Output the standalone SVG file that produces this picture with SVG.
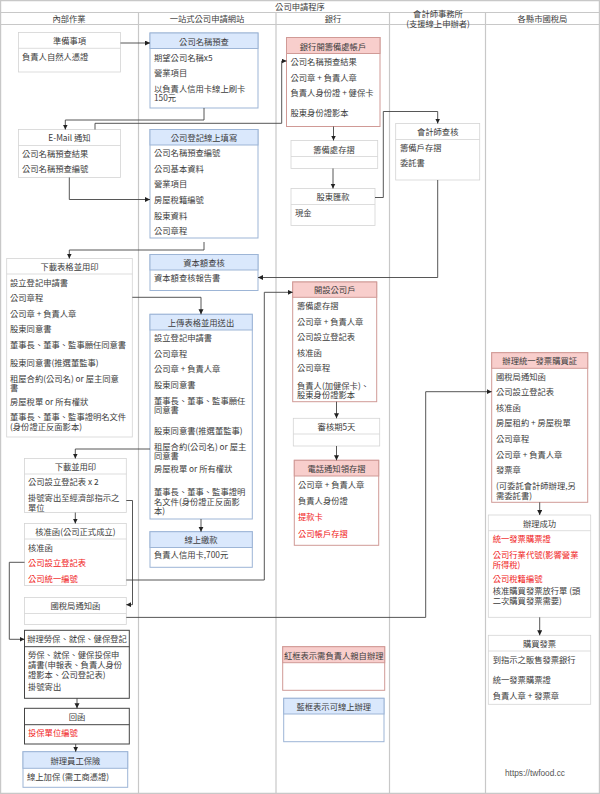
<svg xmlns="http://www.w3.org/2000/svg" width="600" height="794" viewBox="0 0 600 794">
<style>
text{font-family:"Noto Sans CJK TC","Liberation Sans",sans-serif;font-size:8.3px;fill:#3c3c3c}
.c{text-anchor:middle}
.r{fill:#f02020}
.lane{fill:none;stroke:#c8c8c8;stroke-width:1.2}
.g rect{fill:#fff;stroke:#d4d4d4;stroke-width:.8}
.g line{stroke:#d4d4d4;stroke-width:.8}
.b rect{fill:#fff;stroke:#9db5d6;stroke-width:1}
.b rect.h{fill:#dae8fc}
.b line{stroke:#9db5d6;stroke-width:.8}
.p rect{fill:#fff;stroke:#d09a96;stroke-width:1}
.p rect.h{fill:#f8cecc}
.p line{stroke:#d09a96;stroke-width:.8}
.k rect{fill:#fff;stroke:#444;stroke-width:1}
.k line{stroke:#444;stroke-width:1}
#connectors path{fill:none;stroke:#444;stroke-width:.9;marker-end:url(#a)}
</style>
<defs><marker id="a" markerUnits="userSpaceOnUse" markerWidth="6" markerHeight="6" refX="5" refY="2.5" orient="auto"><path d="M0 0L5 2.5L0 5Z" fill="#222"/></marker></defs>
<rect width="600" height="794" fill="#fff"/>
<g id="frame">
<path class="lane" d="M.6.6H599.4V793.4H.6ZM.6 12.5H599.4M.6 24.5H599.4M138.5 12.5V793.4M276 12.5V793.4M389.5 12.5V793.4M485.5 12.5V793.4"/>
<text class="c" x="300" y="10">公司申請程序</text>
<text class="c" x="69" y="22">內部作業</text>
<text class="c" x="207" y="22">一站式公司申請網站</text>
<text class="c" x="333" y="22">銀行</text>
<text class="c" x="438" y="17">會計師事務所<tspan x="438" dy="10">(支援線上申辦者)</tspan></text>
<text class="c" x="542.5" y="22">各縣市國稅局</text>
</g>
<g id="n01" class="g"><rect x="18.5" y="32.5" width="102" height="39.5"/><line x1="18.5" x2="120.5" y1="48.3" y2="48.3"/><text class="c" x="69.5" y="43.7">準備事項</text><text x="22" y="59.7">負責人自然人憑證</text></g>
<g id="n02" class="b"><rect x="150" y="33" width="108" height="75"/><rect class="h" x="150" y="33" width="108" height="15.5"/><text class="c" x="204" y="44.7">公司名稱預查</text><text x="154" y="60.7">期望公司名稱x5</text><text x="154" y="75.7">營業項目</text><text x="154" y="91.7">以負責人信用卡線上刷卡<tspan x="154" dy="9.6">150元</tspan></text></g>
<g id="n03" class="g"><rect x="18.5" y="129.5" width="102" height="48"/><line x1="18.5" x2="120.5" y1="145.5" y2="145.5"/><text class="c" x="69.5" y="141.3">E-Mail 通知</text><text x="22" y="157">公司名稱預查結果</text><text x="22" y="172.3">公司名稱預查編號</text></g>
<g id="n04" class="b"><rect x="150" y="129.5" width="108" height="108.5"/><rect class="h" x="150" y="129.5" width="108" height="15.5"/><text class="c" x="204" y="140.5">公司登記線上填寫</text><text x="154" y="156.3">公司名稱預查編號</text><text x="154" y="172.3">公司基本資料</text><text x="154" y="187.3">營業項目</text><text x="154" y="203">房屋稅籍編號</text><text x="154" y="218.7">股東資料</text><text x="154" y="234">公司章程</text></g>
<g id="n05" class="p"><rect x="286.5" y="37.5" width="93.5" height="89"/><rect class="h" x="286.5" y="37.5" width="93.5" height="16"/><text class="c" x="333" y="49.7">銀行開籌備處帳戶</text><text x="290.5" y="65">公司名稱預查結果</text><text x="290.5" y="80.7">公司章 + 負責人章</text><text x="290.5" y="96.3">負責人身份證 + 健保卡</text><text x="290.5" y="115.7">股東身份證影本</text></g>
<g id="n06" class="g"><rect x="291" y="140.5" width="86.7" height="28"/><line x1="291" x2="377.7" y1="156.5" y2="156.5"/><text class="c" x="334" y="153">籌備處存摺</text></g>
<g id="n07" class="g"><rect x="291" y="188.5" width="84" height="37"/><line x1="291" x2="375" y1="204.5" y2="204.5"/><text class="c" x="333" y="200.3">股東匯款</text><text x="295" y="216.3">現金</text></g>
<g id="n08" class="g"><rect x="395.7" y="123.5" width="84" height="56.5"/><line x1="395.7" x2="479.7" y1="139.5" y2="139.5"/><text class="c" x="437.7" y="135.3">會計師查核</text><text x="400" y="151.3">籌備戶存摺</text><text x="400" y="166.3">委託書</text></g>
<g id="n09" class="g"><rect x="6.7" y="258.5" width="125.6" height="178.5"/><line x1="6.7" x2="132.3" y1="274" y2="274"/><text class="c" x="69.5" y="269.7">下載表格並用印</text><text x="10" y="285.7">設立登記申請書</text><text x="10" y="301.3">公司章程</text><text x="10" y="317">公司章 + 負責人章</text><text x="10" y="332.3">股東同意書</text><text x="10" y="348">董事長、董事、監事願任同意書</text><text x="10" y="366.3">股東同意書(推選董監事)</text><text x="10" y="382">租屋合約(公司名) or 屋主同意<tspan x="10" dy="8.7">書</tspan></text><text x="10" y="404.7">房屋稅單 or 所有權狀</text><text x="10" y="420">董事長、董事、監事證明名文件<tspan x="10" dy="9.7">(身份證正反面影本)</tspan></text></g>
<g id="n10" class="b"><rect x="150" y="254.5" width="108" height="36"/><rect class="h" x="150" y="254.5" width="108" height="15.5"/><text class="c" x="204" y="266.3">資本額查核</text><text x="154" y="281.3">資本額查核報告書</text></g>
<g id="n11" class="b"><rect x="150" y="314.3" width="102.3" height="204.7"/><rect class="h" x="150" y="314.3" width="102.3" height="15.7"/><text class="c" x="201" y="326.3">上傳表格並用送出</text><text x="154" y="341.3">設立登記申請書</text><text x="154" y="357">公司章程</text><text x="154" y="372.3">公司章 + 負責人章</text><text x="154" y="388">股東同意書</text><text x="154" y="404">董事長、董事、監事願任<tspan x="154" dy="9.3">同意書</tspan></text><text x="154" y="434">股東同意書(推選董監事)</text><text x="154" y="449.7">租屋合約(公司名) or 屋主<tspan x="154" dy="9.3">同意書</tspan></text><text x="154" y="472.3">房屋稅單 or 所有權狀</text><text x="154" y="495.3">董事長、董事、監事證明<tspan x="154" dy="9.4">名文件(身份證正反面影</tspan><tspan x="154" dy="9.3">本)</tspan></text></g>
<g id="n12" class="g"><rect x="24.5" y="458.5" width="101.8" height="54.1"/><line x1="24.5" x2="126.3" y1="474" y2="474"/><text class="c" x="75.4" y="469.7">下載並用印</text><text x="28" y="485.3">公司設立登記表 x 2</text><text x="28" y="501.3">掛號寄出至經濟部指示之<tspan x="28" dy="9.4">單位</tspan></text></g>
<g id="n13" class="g"><rect x="24.5" y="523.5" width="101.8" height="62"/><line x1="24.5" x2="126.3" y1="539" y2="539"/><text class="c" x="75.4" y="535.3">核准函(公司正式成立)</text><text x="28" y="550.7">核准函</text><text class="r" x="28" y="566.3">公司設立登記表</text><text class="r" x="28" y="582">公司統一編號</text></g>
<g id="n14" class="g"><rect x="24.5" y="597.5" width="101.8" height="27"/><line x1="24.5" x2="126.3" y1="613.5" y2="613.5"/><text class="c" x="75.4" y="609.3">國稅局通知函</text></g>
<g id="n15" class="k"><rect x="24.5" y="630.3" width="104.8" height="68"/><line x1="24.5" x2="129.3" y1="646.7" y2="646.7"/><text class="c" x="77" y="642.3">辦理勞保、就保、健保登記</text><text x="28" y="658.3">勞保、就保、健保投保申<tspan x="28" dy="10">請書(申報表、負責人身份</tspan><tspan x="28" dy="9.7">證影本、公司登記表)</tspan></text><text x="28" y="689.7">掛號寄出</text></g>
<g id="n16" class="k"><rect x="24.5" y="708.3" width="104.8" height="35.7"/><line x1="24.5" x2="129.3" y1="724.7" y2="724.7"/><text class="c" x="77" y="720">回函</text><text class="r" x="28" y="736.3">投保單位編號</text></g>
<g id="n17" class="b"><rect x="23" y="751.7" width="104.7" height="35.6"/><rect class="h" x="23" y="751.7" width="104.7" height="16.6"/><text class="c" x="75.4" y="764">辦理員工保險</text><text x="27" y="780.3">線上加保 (需工商憑證)</text></g>
<g id="n18" class="b"><rect x="150" y="531.7" width="102.3" height="35.6"/><rect class="h" x="150" y="531.7" width="102.3" height="15.8"/><text class="c" x="201" y="543">線上繳款</text><text x="154" y="558.3">負責人信用卡,700元</text></g>
<g id="n19" class="p"><rect x="292.7" y="282" width="84" height="119.7"/><rect class="h" x="292.7" y="282" width="84" height="15.3"/><text class="c" x="334.7" y="293">開設公司戶</text><text x="297" y="309">籌備處存摺</text><text x="297" y="324.7">公司章 + 負責人章</text><text x="297" y="340.3">公司設立登記表</text><text x="297" y="355.7">核准函</text><text x="297" y="371.3">公司章程</text><text x="297" y="388.7">負責人(加健保卡)、<tspan x="297" dy="9.3">股東身份證影本</tspan></text></g>
<g id="n20" class="g"><rect x="293.3" y="418.3" width="86.4" height="27.7"/><line x1="293.3" x2="379.7" y1="434" y2="434"/><text class="c" x="336.5" y="430.3">審核期5天</text></g>
<g id="n21" class="p"><rect x="294.3" y="460.3" width="84.4" height="85"/><rect class="h" x="294.3" y="460.3" width="84.4" height="15.7"/><text class="c" x="336.5" y="472">電話通知領存摺</text><text x="298" y="488">公司章 + 負責人章</text><text x="298" y="503.7">負責人身份證</text><text class="r" x="298" y="520.3">提款卡</text><text class="r" x="298" y="537">公司帳戶存摺</text></g>
<g id="n22" class="p"><rect x="491.7" y="352.7" width="96" height="149.6"/><rect class="h" x="491.7" y="352.7" width="96" height="15.6"/><text class="c" x="539.7" y="364.3">辦理統一發票購買証</text><text x="496" y="379.7">國稅局通知函</text><text x="496" y="395.3">公司設立登記表</text><text x="496" y="410.7">核准函</text><text x="496" y="426.3">房屋租約 + 房屋稅單</text><text x="496" y="442">公司章程</text><text x="496" y="457.7">公司章 + 負責人章</text><text x="496" y="473">發票章</text><text x="496" y="489">(可委託會計師辦理,另<tspan x="496" dy="9.7">需委託書)</tspan></text></g>
<g id="n23" class="g"><rect x="488.3" y="515" width="102.4" height="102.3"/><line x1="488.3" x2="590.7" y1="530.7" y2="530.7"/><text class="c" x="539.5" y="527">辦理成功</text><text class="r" x="492.7" y="542.3">統一發票購票證</text><text class="r" x="492.7" y="558">公司行業代號(影響營業<tspan x="492.7" dy="9.7">所得稅)</tspan></text><text class="r" x="492.7" y="582">公司稅籍編號</text><text x="492.7" y="594.3">核准購買發票放行單 (頭<tspan x="492.7" dy="9.4">二次購買發票需要)</tspan></text></g>
<g id="n24" class="g"><rect x="488.3" y="635.3" width="102.4" height="69"/><line x1="488.3" x2="590.7" y1="651" y2="651"/><text class="c" x="539.5" y="647">購買發票</text><text x="492.7" y="663">到指示之販售發票銀行</text><text x="492.7" y="683">統一發票購票證</text><text x="492.7" y="698.7">負責人章 + 發票章</text></g>
<g id="n25" class="p"><rect x="282.7" y="646.7" width="102" height="43.6"/><rect class="h" x="282.7" y="646.7" width="102" height="16"/><text class="c" x="333.7" y="658.7">紅框表示需負責人親自辦理</text></g>
<g id="n26" class="b"><rect x="283.7" y="698.3" width="100.3" height="43.4"/><rect class="h" x="283.7" y="698.3" width="100.3" height="15.7"/><text class="c" x="333.8" y="710.3">藍框表示可線上辦理</text></g>
<text id="url" x="505" y="776" style="font-family:'Liberation Sans',sans-serif;font-size:8.3px;fill:#555">https://twfood.cc</text>
<g id="connectors">
<path d="M120.5 43H150"/>
<path d="M204 108V120H65.3V129.5"/>
<path d="M95 129.5V123.3H281.7V61H286.5"/>
<path d="M69.3 177.5V199.5H150"/>
<path d="M204 242V250H69.3V258.5"/>
<path d="M333.5 126.5V140.5"/>
<path d="M333 168.5V188.5"/>
<path d="M375 197.5H383.3V111.5H437.7V123.5"/>
<path d="M437.7 180V277.5H258"/>
<path d="M132.3 297.3H201V314.3"/>
<path d="M150 449H75.3V458.5"/>
<path d="M75.3 512.6V523.5"/>
<path d="M126.3 500.5H132.5V604.7H126.3"/>
<path d="M126.3 580H264.3V292.3H292.7"/>
<path d="M201 519V531.7"/>
<path d="M336.5 401.7V418.3"/>
<path d="M336.5 446V460.3"/>
<path d="M126.3 617.4H425.7V391.7H491.7"/>
<path d="M539.7 502.3V515"/>
<path d="M539.7 617.3V635.3"/>
<path d="M24.5 562.3H9.3V639.3H24.5"/>
<path d="M77 698.3V708.3"/>
<path d="M75.7 744V751.7"/>
</g>
</svg>
